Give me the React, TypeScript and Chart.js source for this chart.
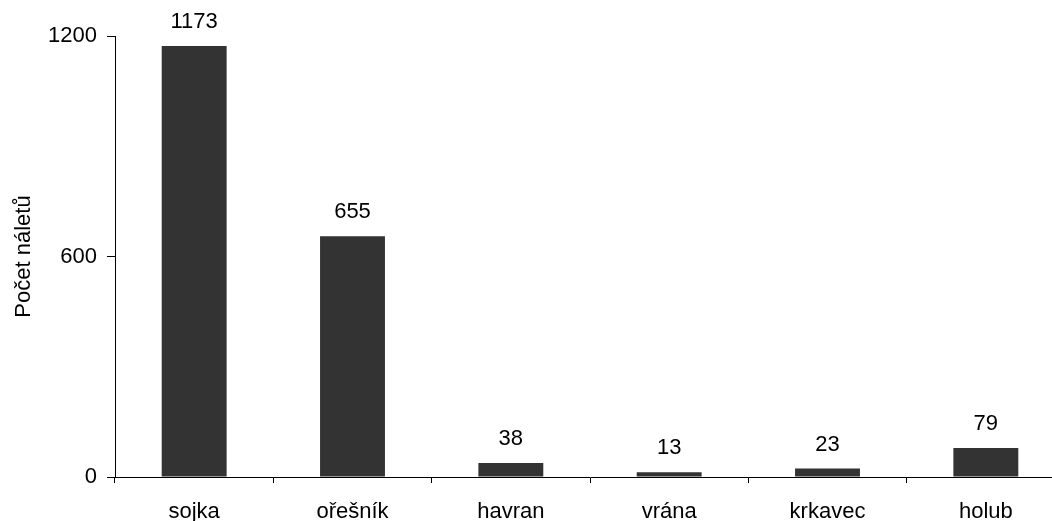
import React, { useEffect, useRef } from "react";
import { Chart, registerables } from "chart.js";

Chart.register(...registerables);

const categories = ["sojka", "ořešník", "havran", "vrána", "krkavec", "holub"];
const values = [1173, 655, 38, 13, 23, 79];
const yTicks = [0, 600, 1200];
const yTitle = "Počet náletů";

const FONT = "'Liberation Sans', Arial, sans-serif";
const FS = 22;

const valueLabels = {
  id: "valueLabels",
  afterDatasetsDraw(chart: any) {
    const ctx = chart.ctx;
    const meta = chart.getDatasetMeta(0);
    ctx.save();
    ctx.font = `${FS}px ${FONT}`;
    ctx.fillStyle = "#000";
    ctx.textAlign = "center";
    ctx.textBaseline = "alphabetic";
    meta.data.forEach((bar: any, i: number) => {
      ctx.fillText(String(values[i]), bar.x, bar.y - 18);
    });
    ctx.restore();
  },
};

export default function App() {
  const ref = useRef<HTMLCanvasElement | null>(null);
  useEffect(() => {
    if (!ref.current) return;
    const chart = new Chart(ref.current, {
      type: "bar",
      data: {
        labels: categories,
        datasets: [
          {
            data: values,
            backgroundColor: "#333333",
            borderWidth: 0,
            barPercentage: 0.41,
            categoryPercentage: 1,
          },
        ],
      },
      options: {
        animation: false,
        responsive: false,
        maintainAspectRatio: false,
        layout: { padding: { top: 36, left: 0, right: 0, bottom: 0 } },
        plugins: {
          legend: { display: false },
          tooltip: { enabled: false },
        },
        scales: {
          x: {
            grid: {
              drawOnChartArea: false,
              drawTicks: true,
              tickLength: 6,
              color: "#000",
              offset: true,
            },
            border: { display: true, color: "#000", width: 1 },
            ticks: {
              color: "#000",
              font: { family: FONT, size: FS },
              padding: 16,
              maxRotation: 0,
            },
            afterFit(scale: any) {
              scale.height = 44;
            },
          },
          y: {
            min: 0,
            max: 1200,
            afterBuildTicks(scale: any) {
              scale.ticks = yTicks.map((v) => ({ value: v }));
            },
            grid: {
              drawOnChartArea: false,
              drawTicks: true,
              tickLength: 8,
              color: "#000",
            },
            border: { display: true, color: "#000", width: 1 },
            ticks: {
              color: "#000",
              font: { family: FONT, size: FS },
              padding: 10,
              callback: (v: any) => String(v),
            },
            title: {
              display: true,
              text: yTitle,
              color: "#000",
              font: { family: FONT, size: FS },
              padding: { top: 11, bottom: 0 },
            },
            afterFit(scale: any) {
              scale.width = 115;
            },
          },
        },
      },
      plugins: [valueLabels],
    });
    return () => chart.destroy();
  }, []);
  return (
    <div
      style={{
        position: "fixed",
        left: 0,
        top: 0,
        width: 1052,
        height: 521,
        overflow: "hidden",
        background: "#fff",
      }}
    >
      <canvas ref={ref} width={1065} height={521} style={{ display: "block" }} />
    </div>
  );
}
